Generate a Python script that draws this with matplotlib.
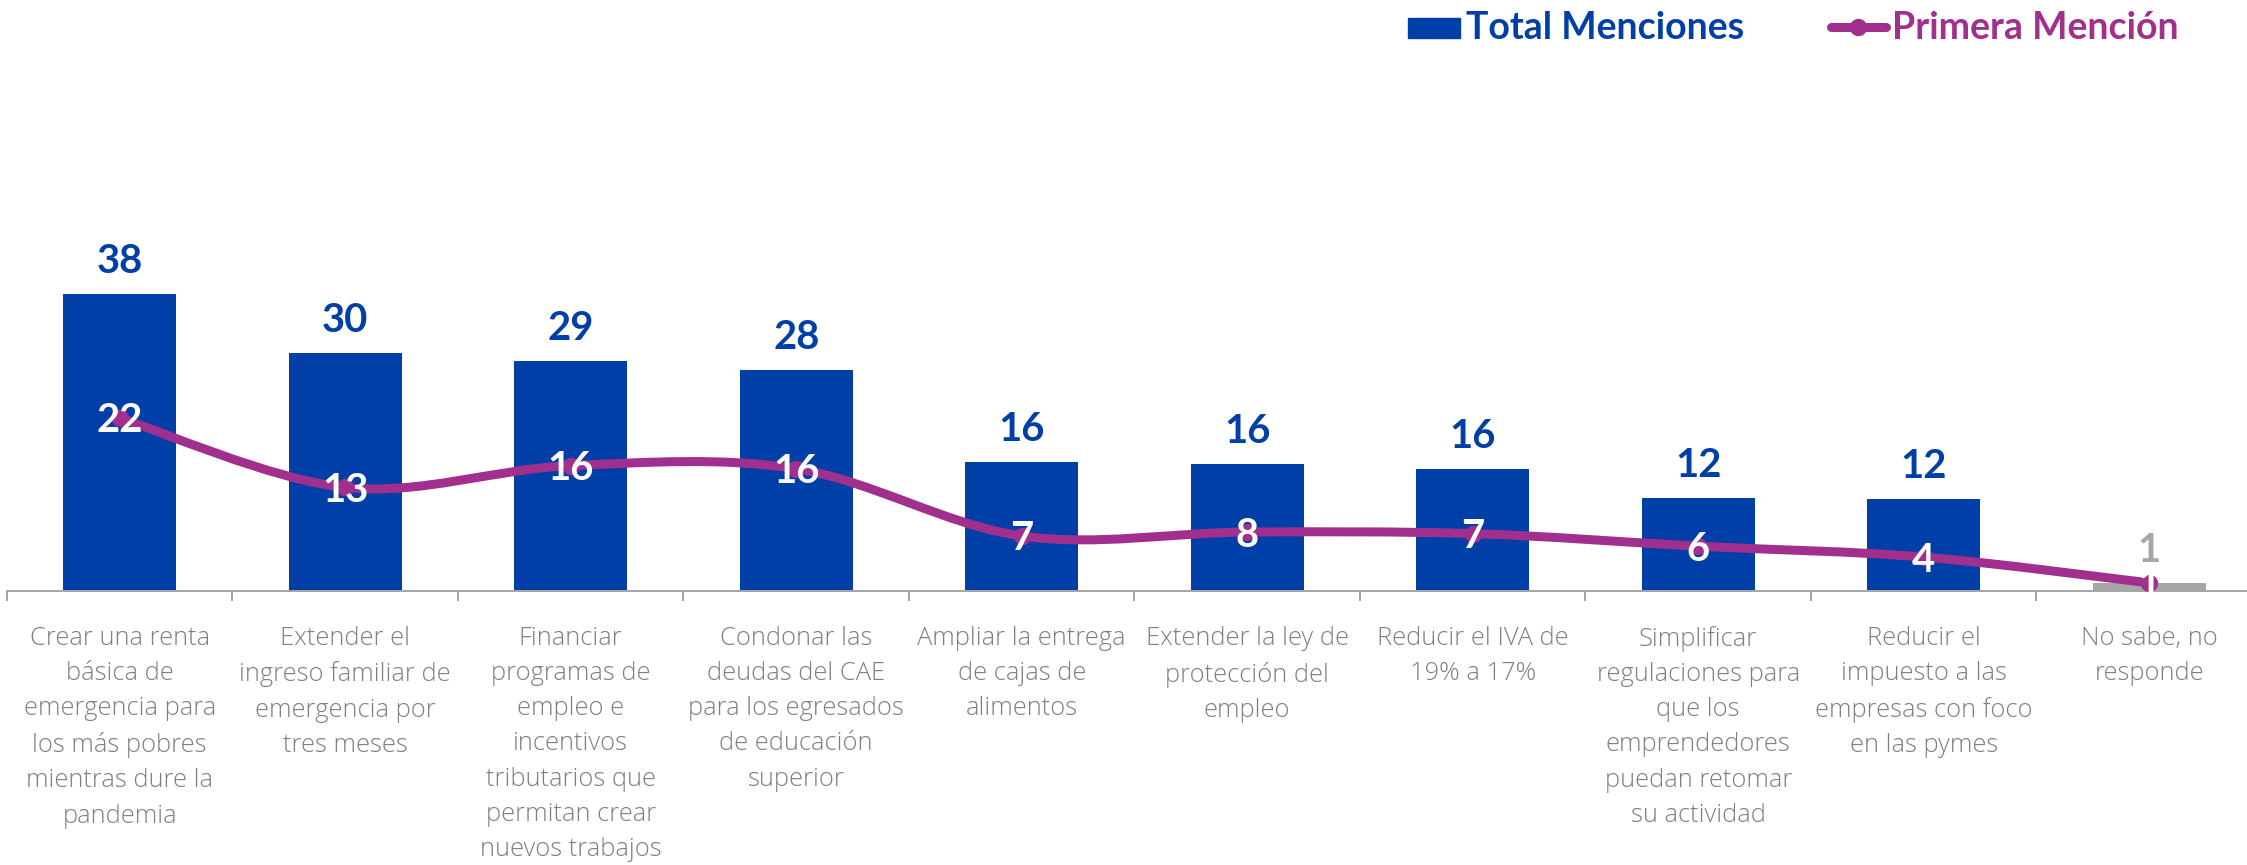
import numpy as np
import matplotlib
matplotlib.use("Agg")
import matplotlib.pyplot as plt
from matplotlib.path import Path
from matplotlib.patches import PathPatch, Rectangle
from matplotlib.lines import Line2D

# ---------------- data ----------------
categories = [
    "Crear una renta\nbásica de\nemergencia para\nlos más pobres\nmientras dure la\npandemia",
    "Extender el\ningreso familiar de\nemergencia por\ntres meses",
    "Financiar\nprogramas de\nempleo e\nincentivos\ntributarios que\npermitan crear\nnuevos trabajos",
    "Condonar las\ndeudas del CAE\npara los egresados\nde educación\nsuperior",
    "Ampliar la entrega\nde cajas de\nalimentos",
    "Extender la ley de\nprotección del\nempleo",
    "Reducir el IVA de\n19% a 17%",
    "Simplificar\nregulaciones para\nque los\nemprendedores\npuedan retomar\nsu actividad",
    "Reducir el\nimpuesto a las\nempresas con foco\nen las pymes",
    "No sabe, no\nresponde",
]
total_menciones = [37.9, 30.4, 29.4, 28.2, 16.4, 16.2, 15.6, 11.9, 11.7, 1.0]
total_labels = ["38", "30", "29", "28", "16", "16", "16", "12", "12", "1"]
primera_mencion = [22.1, 13.2, 16.0, 15.6, 7.0, 7.5, 7.3, 5.7, 4.3, 1.0]
primera_labels = ["22", "13", "16", "16", "7", "8", "7", "6", "4", "1"]
series_names = ["Total Menciones", "Primera Mención"]

# ---------------- style ----------------
BLUE = "#003FA7"
PURPLE = "#A12F8D"
GRAY_BAR = "#A6A6A6"
TXT_GRAY = "#7F7F7F"
AXIS_GRAY = "#A6A6A6"

W, H, DPI = 2247, 865, 100
fig = plt.figure(figsize=(W / DPI, H / DPI), dpi=DPI)
fig.patch.set_facecolor("white")

def px2pt(p):
    return p * 72.0 / DPI

# axes: x from 7px to 2262px, baseline at 590.7px from top, top at 0
ax_left = 7 / W
ax_width = 2255 / W
ax_bottom = (H - 590.7) / H
ax_height = 590.7 / H
ax = fig.add_axes([ax_left, ax_bottom, ax_width, ax_height])
ax.set_facecolor("none")

n = len(categories)
x = np.arange(n)
ymax = 590.7 / 7.82
ax.set_xlim(-0.5, n - 0.5)
ax.set_ylim(0, ymax)

bar_colors = [BLUE] * (n - 1) + [GRAY_BAR]
ax.bar(x, total_menciones, width=0.5, color=bar_colors, zorder=2)

# smoothed line (Excel-like bezier smoothing)
pts = np.column_stack([x, primera_mencion]).astype(float)
verts = [tuple(pts[0])]
codes = [Path.MOVETO]
for i in range(n - 1):
    p_prev = pts[i - 1] if i > 0 else pts[i]
    p0 = pts[i]
    p1 = pts[i + 1]
    p_next = pts[i + 2] if i + 2 < n else pts[i + 1]
    c1 = p0 + (p1 - p_prev) / 6.0
    c2 = p1 - (p_next - p0) / 6.0
    verts += [tuple(c1), tuple(c2), tuple(p1)]
    codes += [Path.CURVE4] * 3
ax.add_patch(PathPatch(Path(verts, codes), facecolor="none", edgecolor=PURPLE,
                       lw=px2pt(9), capstyle="round", joinstyle="round", zorder=3))
ax.plot(x, primera_mencion, ls="none", marker="o", ms=px2pt(16), color=PURPLE,
        mec=PURPLE, zorder=4)

# spines / ticks
for s in ["top", "right", "left"]:
    ax.spines[s].set_visible(False)
ax.spines["bottom"].set_color(AXIS_GRAY)
ax.spines["bottom"].set_linewidth(px2pt(2))
ax.set_yticks([])
ax.set_xticks(np.arange(-0.5, n, 1.0))
ax.set_xticklabels([])
ax.tick_params(axis="x", length=px2pt(10), width=px2pt(2), color=AXIS_GRAY, direction="out")

LABEL_FONT = ["Open Sans", "DejaVu Sans"]
NUM_FONT = ["Lato", "DejaVu Sans"]

# category labels
for i, c in enumerate(categories):
    ax.annotate(c, xy=(i, 0), xytext=(0, -px2pt(35)), textcoords="offset points",
                ha="center", va="top", fontsize=px2pt(25.5), color=TXT_GRAY,
                family=LABEL_FONT, fontweight="light", linespacing=1.54,
                annotation_clip=False)

# value labels above bars
for i, (v, lab) in enumerate(zip(total_menciones, total_labels)):
    col = GRAY_BAR if i == n - 1 else BLUE
    ax.annotate(lab, xy=(i, v), xytext=(0, px2pt(21)), textcoords="offset points",
                ha="center", va="baseline", fontsize=px2pt(40), color=col,
                family=NUM_FONT, fontweight="bold", zorder=6)

# white labels on line
for i, (v, lab) in enumerate(zip(primera_mencion, primera_labels)):
    ax.annotate(lab, xy=(i, v), xytext=(0, -px2pt(14.5)), textcoords="offset points",
                ha="center", va="baseline", fontsize=px2pt(40), color="white",
                family=NUM_FONT, fontweight="bold", zorder=6)

# ---------------- legend (manual) ----------------
def fx(p):
    return p / W

def fy(p):
    return 1 - p / H

fig.add_artist(Rectangle((fx(1408), fy(38)), fx(1460) - fx(1408), (38 - 18) / H,
                         transform=fig.transFigure, color=BLUE))
fig.text(fx(1466), fy(39), series_names[0], color=BLUE, fontsize=px2pt(37.5),
         family=NUM_FONT, fontweight="bold", ha="left", va="baseline")
fig.add_artist(Line2D([fx(1831), fx(1886)], [fy(27), fy(27)], transform=fig.transFigure,
                      color=PURPLE, lw=px2pt(9), solid_capstyle="round",
                      marker=None))
fig.add_artist(Line2D([fx(1858)], [fy(27)], transform=fig.transFigure, color=PURPLE,
                      marker="o", ms=px2pt(16), ls="none"))
fig.text(fx(1892), fy(39), series_names[1], color=PURPLE, fontsize=px2pt(37.5),
         family=NUM_FONT, fontweight="bold", ha="left", va="baseline")

fig.savefig("out.png", dpi=DPI, facecolor="white")
